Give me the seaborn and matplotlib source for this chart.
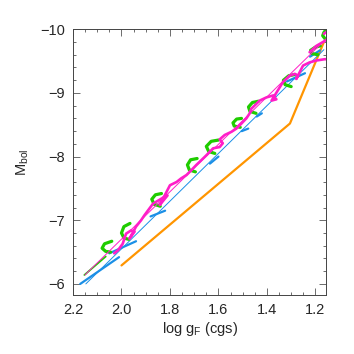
import numpy as np
import pandas as pd
import matplotlib
matplotlib.use("Agg")
import matplotlib.pyplot as plt
from matplotlib.ticker import MultipleLocator
import seaborn as sns

# ---------------- data ----------------
orange_x = [2.0, 1.305, 1.165]
orange_y = [-6.29, -8.52, -9.80]

blue_thin_x = [2.147, 1.165]
blue_thin_y = [-6.0, -9.68]

blue_seg_x = [[2.17, 2.01], [2.05, 1.94], [1.88, 1.82], [1.635, 1.60],
              [1.504, 1.477], [1.442, 1.421], [1.318, 1.243], [1.222, 1.181]]
blue_seg_y = [[-6.00, -6.42], [-6.48, -6.67], [-7.06, -7.15], [-7.89, -8.00],
              [-8.40, -8.44], [-8.63, -8.68], [-9.18, -9.31], [-9.57, -9.67]]

mag_thin_x = [2.151, 1.15]
mag_thin_y = [-6.14, -9.87]

mag_x = [2.03, 2.014, 1.995, 1.981, 1.96, 1.946, 1.967, 1.94, 1.919, 1.905,
         1.87, 1.835, 1.81, 1.842, 1.80, 1.773, 1.753, 1.732, 1.711, 1.691,
         1.677, 1.65, 1.622, 1.595, 1.582, 1.595, 1.574, 1.546, 1.526, 1.505,
         1.485, 1.471, 1.465, 1.43, 1.402, 1.375, 1.361, 1.381, 1.334, 1.306,
         1.285, 1.272, 1.279, 1.251, 1.224, 1.196, 1.162, 1.15]
mag_y = [-6.48, -6.53, -6.63, -6.79, -6.84, -6.82, -6.71, -6.90, -7.00, -7.08,
         -7.26, -7.34, -7.39, -7.24, -7.55, -7.60, -7.66, -7.71, -7.79, -7.87,
         -7.92, -8.02, -8.13, -8.15, -8.21, -8.27, -8.34, -8.39, -8.44, -8.52,
         -8.60, -8.68, -8.75, -8.88, -8.93, -8.96, -8.90, -8.88, -9.17, -9.27,
         -9.30, -9.27, -9.22, -9.43, -9.48, -9.51, -9.53, -9.53]
mag_top_x = [[1.224, 1.196, 1.169, 1.148], [1.165, 1.15]]
mag_top_y = [[-9.64, -9.74, -9.80, -9.85], [-9.93, -9.97]]

green_start_x = [2.153, 2.065]
green_start_y = [-6.14, -6.43]
green_hook_x = [
    [2.04, 2.07, 2.08, 2.065, 2.045],
    [1.965, 1.99, 2.0, 1.99, 1.97],
    [1.835, 1.86, 1.875, 1.865, 1.84],
    [1.688, 1.715, 1.728, 1.72, 1.695],
    [1.60, 1.63, 1.65, 1.64, 1.615],
    [1.505, 1.525, 1.54, 1.535, 1.51],
    [1.435, 1.46, 1.476, 1.47, 1.445],
    [1.284, 1.31, 1.332, 1.325, 1.30],
    [1.18, 1.20, 1.22, 1.215, 1.19],
    [1.155, 1.165, 1.17, 1.16, 1.15],
]
green_hook_y = [
    [-6.67, -6.63, -6.56, -6.51, -6.50],
    [-6.95, -6.90, -6.80, -6.72, -6.70],
    [-7.42, -7.40, -7.33, -7.25, -7.22],
    [-7.97, -7.95, -7.87, -7.79, -7.76],
    [-8.26, -8.24, -8.16, -8.08, -8.05],
    [-8.60, -8.59, -8.53, -8.48, -8.46],
    [-8.87, -8.85, -8.78, -8.71, -8.68],
    [-9.29, -9.27, -9.20, -9.13, -9.10],
    [-9.74, -9.72, -9.67, -9.62, -9.60],
    [-10.0, -9.95, -9.90, -9.85, -9.83],
]

x_ticks = [2.2, 2.0, 1.8, 1.6, 1.4, 1.2]
y_ticks = [-10, -9, -8, -7, -6]

# ---------------- styling ----------------
sns.set_style("ticks")
plt.rcParams['font.family'] = ['Liberation Sans', 'DejaVu Sans']
plt.rcParams['mathtext.fontset'] = 'custom'
plt.rcParams['mathtext.rm'] = 'Liberation Sans'
plt.rcParams['mathtext.it'] = 'Liberation Sans'

GREEN = '#1fcc00'
MAG = '#ff1ec8'
BLUE = '#1a8fe6'
ORANGE = '#ff9500'

fig = plt.figure(figsize=(3.54, 3.54), dpi=100)
ax = fig.add_axes([0.2062, 0.1675, 0.9218 - 0.2062, 0.9172 - 0.1675])

def line(x, y, color, lw):
    sns.lineplot(x=x, y=y, sort=False, estimator=None, color=color,
                 linewidth=lw, ax=ax, legend=False)

line(orange_x, orange_y, ORANGE, 1.6)
line(blue_thin_x, blue_thin_y, BLUE, 0.7)
for sx, sy in zip(blue_seg_x, blue_seg_y):
    line(sx, sy, BLUE, 1.6)
line(green_start_x, green_start_y, GREEN, 1.3)
for hx, hy in zip(green_hook_x, green_hook_y):
    line(hx, hy, GREEN, 2.3)
line(mag_thin_x, mag_thin_y, MAG, 0.7)
line(mag_x, mag_y, MAG, 1.9)
for tx, ty in zip(mag_top_x, mag_top_y):
    line(tx, ty, MAG, 1.9)

ax.set_xlim(2.2, 1.155)
ax.set_ylim(-5.83, -10)
ax.set_xticks(x_ticks)
ax.set_xticklabels([f"{v:.1f}" for v in x_ticks])
ax.set_yticks(y_ticks)
ax.set_yticklabels([f"\u2212{abs(v)}" for v in y_ticks])
ax.xaxis.set_minor_locator(MultipleLocator(0.05))
ax.yaxis.set_minor_locator(MultipleLocator(0.2))
ax.tick_params(which='both', direction='in', top=True, right=True,
               color='#555555', width=0.6)
ax.tick_params(which='major', length=5, labelsize=10.5, pad=6)
ax.tick_params(which='minor', length=2.5)
for s in ax.spines.values():
    s.set_linewidth(0.7)
    s.set_color('#444444')

ax.set_xlabel("log g$_{\\rm F}$ (cgs)", fontsize=10.5, labelpad=2)
ax.set_ylabel("M$_{\\rm bol}$", fontsize=10.5, labelpad=6)

fig.savefig("out.png", dpi=100)
